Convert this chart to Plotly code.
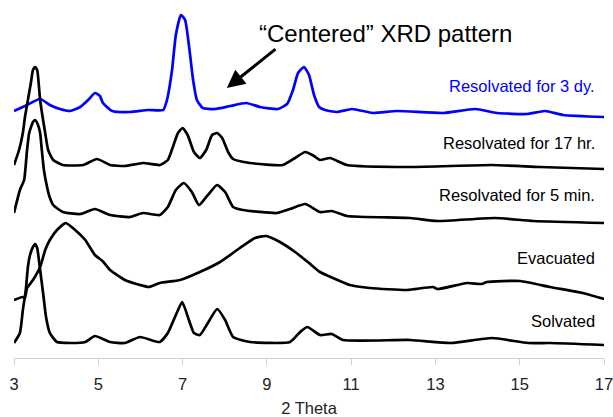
import plotly.graph_objects as go

# Offset-stacked powder XRD patterns (intensity in a.u., each pattern shifted vertically)
theta_3dy = [3.00, 3.26, 3.62, 3.85, 4.09, 4.33, 4.57, 4.76, 4.92, 5.04, 5.11, 5.33, 5.75, 6.18,
             6.54, 6.63, 6.75, 6.84, 6.96, 7.06, 7.15, 7.25, 7.34, 7.48, 7.77, 8.13, 8.51, 8.84,
             9.26, 9.48, 9.62, 9.74, 9.88, 10.00, 10.12, 10.24, 10.38, 10.66, 11.02, 11.52,
             12.09, 13.18, 13.94, 14.46, 15.17, 15.60, 16.03, 17.00]
int_3dy = [247, 252, 259, 253, 249, 247, 251, 258, 265, 262, 255, 247, 246, 248,
           248, 258, 288, 323, 343, 338, 313, 278, 258, 250, 249, 252, 255, 251,
           249, 254, 268, 285, 291, 283, 263, 251, 248, 246, 249, 245,
           247, 245, 249, 245, 244, 247, 243, 241]

theta_17hr = [3.00, 3.12, 3.21, 3.26, 3.33, 3.40, 3.45, 3.50, 3.55, 3.62, 3.74, 3.81, 3.93, 4.16,
              4.64, 4.97, 5.28, 5.63, 6.06, 6.46, 6.65, 6.77, 6.89, 7.00, 7.12, 7.27, 7.41,
              7.56, 7.70, 7.82, 7.94, 8.08, 8.20, 8.60, 9.38, 9.67, 9.91, 10.12, 10.26, 10.50,
              10.90, 12.40, 14.34, 15.48, 17.00]
int_17hr = [193, 208, 225, 241, 258, 275, 288, 291, 288, 258, 225, 208, 198, 193,
            193, 199, 193, 192, 195, 193, 198, 211, 225, 230, 223, 206, 200,
            208, 223, 225, 220, 206, 199, 195, 193, 200, 206, 202, 198, 200,
            193, 191, 193, 191, 189]

theta_5min = [3.00, 3.14, 3.24, 3.31, 3.36, 3.45, 3.50, 3.57, 3.62, 3.66, 3.71, 3.76, 3.83, 3.93,
              4.16, 4.57, 4.92, 5.28, 5.75, 6.06, 6.46, 6.65, 6.84, 7.03, 7.22, 7.39, 7.60,
              7.82, 8.01, 8.20, 8.43, 9.24, 9.55, 9.91, 10.26, 10.54, 10.90, 12.40, 13.04,
              14.42, 15.32, 17.00]
int_5min = [145, 168, 178, 208, 225, 236, 238, 233, 225, 208, 188, 176, 163, 153,
            146, 144, 149, 143, 141, 145, 143, 151, 168, 175, 166, 153, 163,
            173, 166, 151, 148, 145, 149, 154, 146, 147, 142, 140, 137,
            140, 137, 135]

theta_evac = [3.00, 3.20, 3.26, 3.31, 3.45, 3.62, 3.74, 3.85, 4.02, 4.23, 4.45, 4.69, 4.92,
              5.10, 5.28, 5.63, 5.99, 6.20, 6.46, 6.94, 7.41, 7.89, 8.36, 8.72, 8.98, 9.31,
              9.67, 10.00, 10.26, 10.57, 10.97, 11.45, 12.33, 12.94, 13.05, 13.75, 14.10,
              14.22, 15.01, 15.72, 16.50, 17.00]
int_evac = [58, 61, 60, 70, 78, 91, 108, 118, 128, 135, 128, 118, 103,
            97, 88, 78, 73, 71, 75, 78, 86, 96, 110, 120, 122, 116,
            106, 95, 86, 80, 73, 70, 68, 71, 69, 75, 74,
            76, 77, 71, 65, 59]

theta_solv = [3.00, 3.14, 3.21, 3.28, 3.33, 3.38, 3.45, 3.50, 3.55, 3.62, 3.69, 3.76, 3.85,
              4.02, 4.33, 4.69, 4.92, 5.28, 5.63, 5.99, 6.46, 6.65, 6.82, 6.99, 7.15, 7.27,
              7.41, 7.60, 7.82, 8.01, 8.20, 8.60, 9.55, 9.79, 9.96, 10.26, 10.54, 10.81,
              12.40, 13.37, 14.34, 15.20, 15.72, 17.00]
int_solv = [15, 25, 48, 68, 91, 103, 111, 114, 110, 88, 65, 41, 25,
            16, 15, 16, 22, 16, 15, 21, 16, 25, 41, 56, 38, 25,
            23, 35, 49, 38, 21, 16, 16, 26, 31, 23, 24, 18,
            18, 15, 20, 15, 15, 13]

series = [
    ("Resolvated for 3 dy.", theta_3dy, int_3dy, "#0000ff", 272),
    ("Resolvated for 17 hr.", theta_17hr, int_17hr, "#000000", 215),
    ("Resolvated for 5 min.", theta_5min, int_5min, "#000000", 163),
    ("Evacuated", theta_evac, int_evac, "#000000", 100),
    ("Solvated", theta_solv, int_solv, "#000000", 37),
]

FONT = "Liberation Sans, Arial, sans-serif"

fig = go.Figure()
annotations = []
for name, tx, iy, color, label_y in series:
    fig.add_trace(go.Scatter(x=tx, y=iy, mode="lines", name=name,
                             line=dict(color=color, width=2.7, shape="spline", smoothing=0.5),
                             showlegend=False))
    annotations.append(dict(x=16.84, y=label_y, xref="x", yref="y", text=name,
                            showarrow=False, xanchor="right", yanchor="middle",
                            font=dict(family=FONT, size=16.5, color=color)))

annotations.append(dict(x=11.82, y=325, xref="x", yref="y",
                        text="\u201cCentered\u201d XRD pattern", showarrow=False,
                        xanchor="center", yanchor="middle",
                        font=dict(family=FONT, size=24, color="#000000")))
annotations.append(dict(x=8.05, y=270, xref="x", yref="y", ax=9.24, ay=310,
                        axref="x", ayref="y", text="", showarrow=True,
                        arrowhead=2, arrowsize=1.2, arrowwidth=3, arrowcolor="#000000"))

fig.update_layout(
    width=613, height=417,
    margin=dict(l=14, r=9, t=10, b=59, autoexpand=False),
    paper_bgcolor="white", plot_bgcolor="white",
    font=dict(family=FONT, size=16.5, color="#222222"),
    annotations=annotations,
    xaxis=dict(range=[3, 17], tickvals=[3, 5, 7, 9, 11, 13, 15, 17],
               automargin=False, ticklabeloverflow="allow",
               showgrid=False, zeroline=False, showline=True, linecolor="#d0d0d0",
               linewidth=1, ticks="outside", ticklen=6, tickcolor="#d0d0d0",
               ticklabelstandoff=5,
               tickfont=dict(family=FONT, size=16.5, color="#222222"),
               title=dict(text="2 Theta", standoff=10,
                          font=dict(family=FONT, size=16.5, color="#222222"))),
    yaxis=dict(range=[0, 348], visible=False),
)

fig.write_html("out.html")
